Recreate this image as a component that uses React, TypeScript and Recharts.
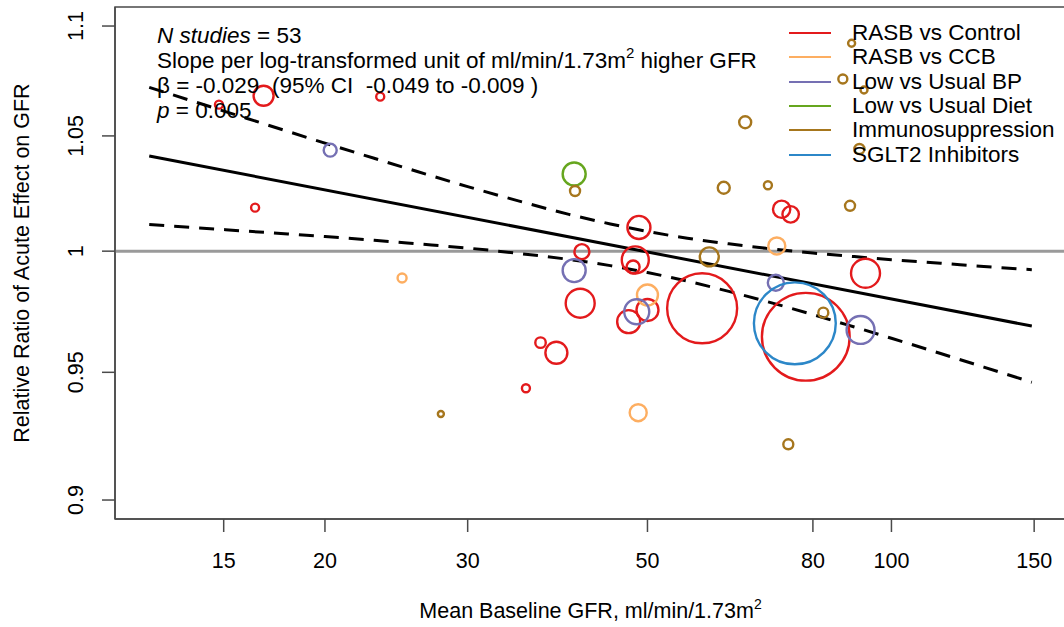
import React from 'react';
import {
  ComposedChart,
  Scatter,
  Line,
  XAxis,
  YAxis,
  ReferenceLine,
  ReferenceArea,
  Label,
} from 'recharts';

const FONT = '"Liberation Sans", Arial, Helvetica, sans-serif';

// Each study: mean baseline GFR, relative ratio of acute effect, study weight
const rasbControl = [
  { gfr: 14.8, ratio: 1.064, w: 0.64 },
  { gfr: 16.8, ratio: 1.068, w: 4.0 },
  { gfr: 23.4, ratio: 1.0676, w: 0.64 },
  { gfr: 16.4, ratio: 1.0186, w: 0.64 },
  { gfr: 48.8, ratio: 1.0101, w: 5.3 },
  { gfr: 41.5, ratio: 0.9998, w: 2.25 },
  { gfr: 48.3, ratio: 0.9963, w: 7.3 },
  { gfr: 48.0, ratio: 0.9933, w: 1.69 },
  { gfr: 73.2, ratio: 1.0179, w: 3.0 },
  { gfr: 75.1, ratio: 1.0157, w: 2.7 },
  { gfr: 92.9, ratio: 0.9907, w: 8.4 },
  { gfr: 41.3, ratio: 0.9782, w: 8.4 },
  { gfr: 50.0, ratio: 0.9754, w: 4.84 },
  { gfr: 47.4, ratio: 0.9706, w: 5.3 },
  { gfr: 58.4, ratio: 0.9761, w: 49 },
  { gfr: 78.4, ratio: 0.9644, w: 77 },
  { gfr: 36.9, ratio: 0.962, w: 1.1 },
  { gfr: 38.6, ratio: 0.9579, w: 4.84 },
  { gfr: 35.4, ratio: 0.9436, w: 0.64 },
];

const rasbCcb = [
  { gfr: 24.9, ratio: 0.9887, w: 0.81 },
  { gfr: 50.0, ratio: 0.9816, w: 4.4 },
  { gfr: 72.2, ratio: 1.0022, w: 2.9 },
  { gfr: 48.7, ratio: 0.9339, w: 2.9 },
];

const lowBp = [
  { gfr: 20.3, ratio: 1.0437, w: 1.69 },
  { gfr: 40.6, ratio: 0.9918, w: 5.3 },
  { gfr: 48.5, ratio: 0.9747, w: 6.25 },
  { gfr: 72.0, ratio: 0.9867, w: 2.56 },
  { gfr: 91.6, ratio: 0.9672, w: 7.8 },
];

const lowDiet = [{ gfr: 40.6, ratio: 1.0332, w: 5.3 }];

const immuno = [
  { gfr: 89.3, ratio: 1.092, w: 0.49 },
  { gfr: 87.1, ratio: 1.0756, w: 0.81 },
  { gfr: 92.5, ratio: 1.0706, w: 0.49 },
  { gfr: 91.3, ratio: 1.0442, w: 1.0 },
  { gfr: 66.0, ratio: 1.0561, w: 1.44 },
  { gfr: 70.4, ratio: 1.0283, w: 0.64 },
  { gfr: 62.1, ratio: 1.0272, w: 1.44 },
  { gfr: 40.7, ratio: 1.0258, w: 1.0 },
  { gfr: 88.9, ratio: 1.0194, w: 1.0 },
  { gfr: 59.6, ratio: 0.9976, w: 3.6 },
  { gfr: 82.4, ratio: 0.9743, w: 1.0 },
  { gfr: 27.8, ratio: 0.9334, w: 0.36 },
  { gfr: 74.6, ratio: 0.9215, w: 1.0 },
];

const sglt2 = [{ gfr: 76.0, ratio: 0.9699, w: 67 }];

// Meta-regression fit and 95% confidence band
const fitGfr = [12.14, 149];
const fitRatio = [1.0411, 0.9688];
const ciGfr = [12.14, 14, 16, 18, 20, 23, 26, 30, 35, 40, 45, 50, 56, 63, 70, 80, 90, 100, 115, 130, 149];
const ciUpper = [1.0718, 1.0646, 1.0579, 1.052, 1.0468, 1.0401, 1.0343, 1.0277, 1.0211, 1.0157, 1.0116, 1.0084, 1.0055, 1.0031, 1.0012, 0.9992, 0.9977, 0.9964, 0.9949, 0.9935, 0.9922];
const ciLower = [1.0113, 1.0099, 1.0085, 1.0073, 1.0062, 1.0046, 1.0031, 1.0013, 0.9989, 0.9965, 0.9939, 0.991, 0.9874, 0.9831, 0.979, 0.9735, 0.9684, 0.9638, 0.9576, 0.9521, 0.946];

const xTicks = [15, 20, 30, 50, 80, 100, 150];
const yTicks = [0.9, 0.95, 1, 1.05, 1.1];
const xDomain = [11.015, 164.2];
const yDomain = [0.8928, 1.1089];

const groupNames = ['RASB vs Control', 'RASB vs CCB', 'Low vs Usual BP', 'Low vs Usual Diet', 'Immunosuppression', 'SGLT2 Inhibitors'];
const groupColors = ['#E31A1C', '#FDAE61', '#7570B3', '#66A61E', '#A6761D', '#2C87C8'];
const groupData = [rasbControl, rasbCcb, lowBp, lowDiet, immuno, sglt2];

const fitData = fitGfr.map((g, i) => ({ gfr: g, fit: fitRatio[i] }));
const ciData = ciGfr.map((g, i) => ({ gfr: g, upper: ciUpper[i], lower: ciLower[i] }));

const makeShape = (color: string) => (props: any) => {
  const { cx, cy, payload } = props;
  if (cx == null || cy == null) return <g />;
  return (
    <circle cx={cx} cy={cy} r={5 * Math.sqrt(payload.w)} fill="none" stroke={color} strokeWidth={2.4} />
  );
};

const AXIS_COLOR = '#4a4a4a';

const YTick = (props: any) => {
  const { x, y, payload } = props;
  return (
    <text
      x={0}
      y={0}
      transform={`translate(${x - 17},${y}) rotate(-90)`}
      textAnchor="middle"
      fontSize={21.5}
      fontFamily={FONT}
      fill="#000"
    >
      {payload.value}
    </text>
  );
};

const XLabel = (props: any) => {
  const vb = props.viewBox;
  return (
    <text x={vb.x + vb.width / 2} y={vb.y + 99} textAnchor="middle" fontSize={21.5} fontFamily={FONT} fill="#000">
      Mean Baseline GFR, ml/min/1.73m
      <tspan fontSize={14} dy={-9}>2</tspan>
    </text>
  );
};

const YLabel = (props: any) => {
  const vb = props.viewBox;
  const cy = vb.y + vb.height / 2;
  return (
    <text
      x={0}
      y={0}
      transform={`translate(29,${cy}) rotate(-90)`}
      textAnchor="middle"
      fontSize={21.5}
      fontFamily={FONT}
      fill="#000"
    >
      Relative Ratio of Acute Effect on GFR
    </text>
  );
};

export default function App() {
  return (
    <div
      style={{
        position: 'fixed',
        left: 0,
        top: 0,
        width: 1064,
        height: 627,
        overflow: 'hidden',
        background: '#fff',
      }}
    >
      <ComposedChart width={1080} height={627} margin={{ top: 7, right: 14, left: 0, bottom: 0 }}>
        <XAxis
          dataKey="gfr"
          type="number"
          scale="log"
          domain={xDomain}
          allowDataOverflow
          ticks={xTicks}
          tickSize={13}
          tickMargin={21}
          height={108}
          stroke={AXIS_COLOR}
          strokeWidth={1.5}
          tick={{ fontSize: 21.5, fontFamily: FONT, fill: '#000' }}
        >
          <Label content={<XLabel />} />
        </XAxis>
        <YAxis
          type="number"
          scale="log"
          domain={yDomain}
          allowDataOverflow
          ticks={yTicks}
          tickSize={13}
          width={115}
          stroke={AXIS_COLOR}
          strokeWidth={1.5}
          tick={<YTick />}
        >
          <Label content={<YLabel />} />
        </YAxis>
        <ReferenceArea
          x1={xDomain[0]}
          x2={xDomain[1]}
          y1={yDomain[0]}
          y2={yDomain[1]}
          fill="none"
          fillOpacity={0}
          stroke={AXIS_COLOR}
          strokeWidth={1.5}
          ifOverflow="visible"
        />
        <ReferenceLine y={1} stroke="#9a9a9a" strokeWidth={3} />
        {groupData.map((d, i) => (
          <Scatter
            key={groupNames[i]}
            name={groupNames[i]}
            data={d}
            dataKey="ratio"
            fill={groupColors[i]}
            shape={makeShape(groupColors[i])}
            isAnimationActive={false}
          />
        ))}
        <Line
          data={fitData}
          dataKey="fit"
          type="linear"
          stroke="#000"
          strokeWidth={3}
          dot={false}
          activeDot={false}
          isAnimationActive={false}
        />
        <Line
          data={ciData}
          dataKey="upper"
          type="monotone"
          stroke="#000"
          strokeWidth={3}
          strokeDasharray="15 10"
          dot={false}
          activeDot={false}
          isAnimationActive={false}
        />
        <Line
          data={ciData}
          dataKey="lower"
          type="monotone"
          stroke="#000"
          strokeWidth={3}
          strokeDasharray="15 10"
          dot={false}
          activeDot={false}
          isAnimationActive={false}
        />
      </ComposedChart>
      <div
        style={{
          position: 'absolute',
          left: 789,
          top: 21,
          fontFamily: FONT,
          fontSize: 22.5,
          color: '#000',
        }}
      >
        {groupNames.map((name, i) => (
          <div key={name} style={{ display: 'flex', alignItems: 'center', height: 24.3, whiteSpace: 'nowrap' }}>
            <span
              style={{
                display: 'inline-block',
                width: 42,
                height: 0,
                borderTop: `2.5px solid ${groupColors[i]}`,
                marginRight: 21,
              }}
            />
            <span>{name}</span>
          </div>
        ))}
      </div>
      <div
        style={{
          position: 'absolute',
          left: 157,
          top: 23,
          fontFamily: FONT,
          fontSize: 22.5,
          lineHeight: '25px',
          color: '#000',
          whiteSpace: 'pre',
        }}
      >
        <div>
          <i>N studies</i> = 53
        </div>
        <div>
          Slope per log-transformed unit of ml/min/1.73m
          <sup style={{ fontSize: 15, lineHeight: 0, verticalAlign: 'baseline', position: 'relative', top: -10 }}>2</sup>{' '}
          higher GFR
        </div>
        <div>{'\u03b2 = -0.029  (95% CI  -0.049 to -0.009 )'}</div>
        <div>
          <i>p</i> = 0.005
        </div>
      </div>
    </div>
  );
}
